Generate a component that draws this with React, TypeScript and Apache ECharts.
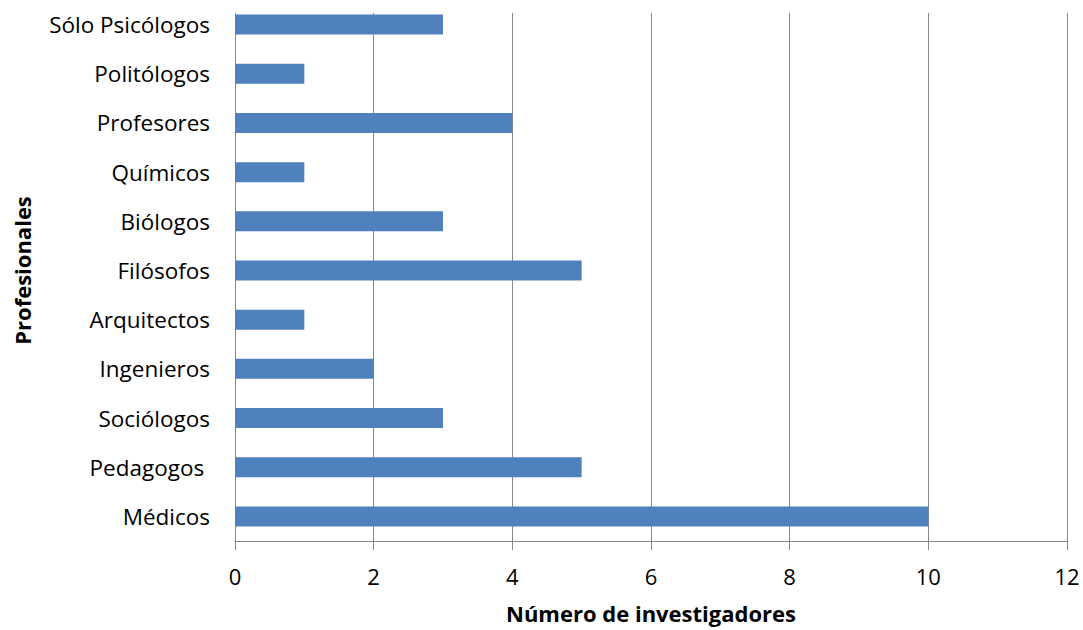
import React, { useEffect, useRef } from "react";
import * as echarts from "echarts";

const categories = [
  "Médicos",
  "Pedagogos ",
  "Sociólogos",
  "Ingenieros",
  "Arquitectos",
  "Filósofos",
  "Biólogos",
  "Químicos",
  "Profesores",
  "Politólogos",
  "Sólo Psicólogos",
];
const values = [10, 5, 3, 2, 1, 5, 3, 1, 4, 1, 3];
const xMin = 0;
const xMax = 12;
const xInterval = 2;

const FONT = "'Open Sans', sans-serif";

export default function App() {
  const ref = useRef<HTMLDivElement>(null);
  useEffect(() => {
    if (!ref.current) return;
    const chart = echarts.init(ref.current, undefined, { renderer: "svg" });
    chart.setOption({
      animation: false,
      backgroundColor: "#ffffff",
      textStyle: { fontFamily: FONT },
      grid: {
        left: 235,
        right: 16,
        top: 0,
        bottom: 89,
        containLabel: false,
        outerBoundsMode: "none",
      },
      graphic: [
        {
          type: "rect",
          z: 100,
          silent: true,
          shape: { x: 225, y: 0, width: 858, height: 13 },
          style: { fill: "#ffffff" },
        },
      ],
      xAxis: {
        type: "value",
        min: xMin,
        max: xMax,
        interval: xInterval,
        axisLine: { show: true, lineStyle: { color: "#868686", width: 1 } },
        axisTick: { show: true, length: 9, lineStyle: { color: "#868686" } },
        splitLine: { show: true, lineStyle: { color: "#868686", width: 1 } },
        axisLabel: { color: "#000", fontSize: 22, margin: 24, fontFamily: FONT },
        name: "Número de investigadores",
        nameLocation: "middle",
        nameGap: 61,
        nameTextStyle: { color: "#000", fontSize: 22, fontWeight: "bold", fontFamily: FONT },
      },
      yAxis: {
        type: "category",
        data: categories,
        axisLine: { show: true, lineStyle: { color: "#868686", width: 1 } },
        axisTick: { show: false },
        splitLine: { show: false },
        axisLabel: { color: "#000", fontSize: 22.5, margin: 25, fontFamily: FONT },
        name: "Profesionales",
        nameLocation: "middle",
        nameGap: 202,
        nameRotate: 90,
        nameTextStyle: { color: "#000", fontSize: 22, fontWeight: "bold", fontFamily: FONT },
      },
      series: [
        {
          type: "bar",
          data: values,
          barWidth: 20,
          itemStyle: { color: "#4F81BD" },
        },
      ],
    });
    return () => chart.dispose();
  }, []);
  return (
    <div
      ref={ref}
      style={{ position: "absolute", left: 0, top: 0, width: 1083, height: 630 }}
    />
  );
}
